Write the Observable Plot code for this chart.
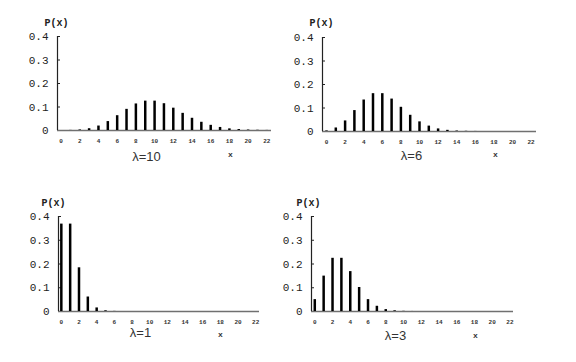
<!DOCTYPE html>
<html>
<head>
<meta charset="utf-8">
<script src="https://cdn.jsdelivr.net/npm/d3@7"></script>
<script src="https://cdn.jsdelivr.net/npm/@observablehq/plot@0.6"></script>
<style>
  html, body { margin: 0; padding: 0; background: #fff; }
  #chart { position: relative; width: 576px; height: 362px; overflow: hidden; }
  #chart svg { position: absolute; overflow: visible; }
</style>
</head>
<body>
<div id="chart"></div>
<script>
// x values (k) and tick labels
const ks = d3.range(0, 23);
const xTicks = [0, 2, 4, 6, 8, 10, 12, 14, 16, 18, 20, 22];
const yTicks = [0, 0.1, 0.2, 0.3, 0.4];

// P(x) values, k = 0..22
const p10 = [0.00005, 0.0005, 0.0023, 0.0076, 0.019, 0.038, 0.063, 0.090, 0.113, 0.125, 0.125, 0.114,
             0.095, 0.073, 0.052, 0.035, 0.022, 0.013, 0.007, 0.004, 0.002, 0.001, 0.0004];
const p6  = [0.0025, 0.015, 0.045, 0.089, 0.134, 0.161, 0.161, 0.138, 0.103, 0.069, 0.041, 0.023,
             0.011, 0.005, 0.002, 0.0009, 0.0003, 0.0001, 0, 0, 0, 0, 0];
const p1  = [0.368, 0.368, 0.184, 0.061, 0.015, 0.003, 0.0005, 0.0001, 0, 0, 0, 0,
             0, 0, 0, 0, 0, 0, 0, 0, 0, 0, 0];
const p3  = [0.050, 0.149, 0.224, 0.224, 0.168, 0.101, 0.050, 0.022, 0.008, 0.003, 0.0008, 0.0002,
             0.00004, 0, 0, 0, 0, 0, 0, 0, 0, 0, 0];

const titles = ["λ=10", "λ=6", "λ=1", "λ=3"];
const series = [p10, p6, p1, p3];

// layout per panel
const layout = [
  {left: 0,   top: 0,   ml: 57, mr: 17, mt: 36, mb: 51, dom: [-0.38, 22.5],  lam: [89, 30], xl: [173, 26], pl: [-13, -18]},
  {left: 288, top: 0,   ml: 34, mr: 40, mt: 37, mb: 50, dom: [-0.43, 22.58], lam: [89, 28], xl: [173, 25], pl: [-13, -19]},
  {left: 0,   top: 181, ml: 58, mr: 29, mt: 35, mb: 51, dom: [-0.32, 22.43], lam: [82, 25], xl: [162, 25], pl: [-17, -18]},
  {left: 288, top: 181, ml: 23, mr: 63, mt: 35, mb: 51, dom: [-0.37, 22.4],  lam: [84, 28], xl: [164, 26], pl: [-15, -18]}
];

const mono = "'Liberation Mono', 'DejaVu Sans Mono', monospace";
const chart = document.getElementById("chart");

series.forEach((vals, i) => {
  const L = layout[i];
  const data = ks.map((k, j) => ({k, p: vals[j]}));
  const svg = Plot.plot({
    width: 288,
    height: 181,
    marginLeft: L.ml,
    marginRight: L.mr,
    marginTop: L.mt,
    marginBottom: L.mb,
    style: {fontFamily: mono, background: "transparent", color: "#222"},
    x: {domain: L.dom},
    y: {domain: [0, 0.4]},
    marks: [
      Plot.ruleY([0], {stroke: "#707070", strokeWidth: 1.3}),
      Plot.ruleX([L.dom[0]], {stroke: "#222", strokeWidth: 1.2}),
      Plot.axisY(yTicks, {tickSize: 0, tickPadding: 9, stroke: "#222", label: null,
        fontSize: 11, fill: "#222", tickFormat: d => d === 0 ? "0" : d.toFixed(1)}),
      Plot.axisY(yTicks.slice(1), {tickSize: 3, dx: 3, tickFormat: () => "", label: null, stroke: "#222"}),
      Plot.axisX(xTicks, {tickSize: 0, tickPadding: 8, label: null, fontSize: 6, fontWeight: "bold", fill: "#333"}),
      Plot.ruleX(data, {x: "k", y1: 0, y2: "p", stroke: "#000", strokeWidth: 2.5}),
      Plot.text(["P(x)"], {frameAnchor: "top-left", dx: L.pl[0], dy: L.pl[1], fontSize: 10, fontWeight: "bold", fill: "#222", fontFamily: mono}),
      Plot.text([titles[i]], {frameAnchor: "bottom-left", dx: L.lam[0], dy: L.lam[1], fontSize: 13,
        fill: "#333", fontFamily: "'Liberation Sans', Arial, sans-serif", textAnchor: "middle"}),
      Plot.text(["x"], {frameAnchor: "bottom-left", dx: L.xl[0], dy: L.xl[1], fontSize: 8, fontWeight: "bold",
        fill: "#333", fontFamily: mono, textAnchor: "middle"})
    ]
  });
  svg.style.left = L.left + "px";
  svg.style.top = L.top + "px";
  chart.appendChild(svg);
});
</script>
</body>
</html>
